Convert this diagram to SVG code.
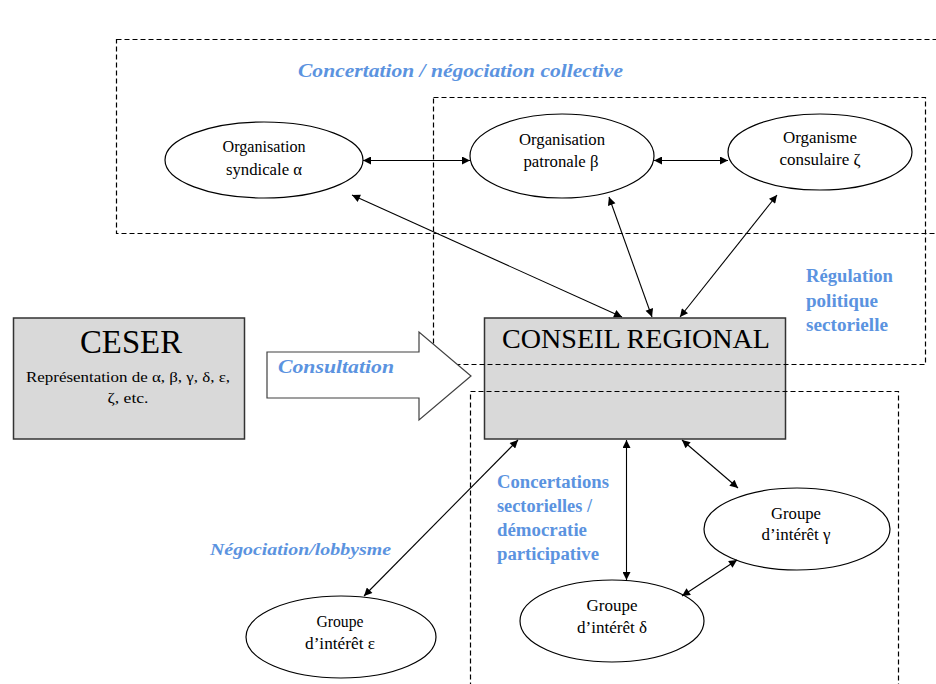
<svg xmlns="http://www.w3.org/2000/svg" width="936" height="684" viewBox="0 0 936 684">
<style>
.dash{fill:none;stroke:#000;stroke-width:1.2;stroke-dasharray:5,3}
.ell{fill:#fff;stroke:#000;stroke-width:1.2}
.box{fill:#d9d9d9;stroke:#333;stroke-width:1.5}
.t{font-family:"Liberation Serif","Times New Roman",serif;fill:#000;text-anchor:middle}
.b{font-family:"Liberation Serif","Times New Roman",serif;fill:#5b93e0;font-weight:bold}
.bi{font-family:"Liberation Serif","Times New Roman",serif;fill:#5b93e0;font-weight:bold;font-style:italic}
.con{stroke:#000;stroke-width:1.1;fill:none;marker-start:url(#ah);marker-end:url(#ah)}
</style>
<defs>
<marker id="ah" viewBox="0 0 10 10" refX="10" refY="5" markerWidth="9" markerHeight="8" markerUnits="userSpaceOnUse" orient="auto-start-reverse">
<path d="M0,0 L10,5 L0,10 z" fill="#000"/>
</marker>
</defs>
<rect width="936" height="684" fill="#fff"/>

<g id="conseil">
<rect class="box" x="484.5" y="318" width="301" height="121"/>
<text class="t" x="636" y="348" font-size="28" textLength="268" lengthAdjust="spacingAndGlyphs">CONSEIL REGIONAL</text>
</g>

<g id="zones">
<rect class="dash" x="116.5" y="39.5" width="840" height="194"/>
<rect class="dash" x="433.5" y="97.5" width="492" height="267"/>
<rect class="dash" x="470.5" y="391.5" width="428" height="320"/>
</g>

<g id="labels">
<text class="bi" x="298" y="77" font-size="19" textLength="325" lengthAdjust="spacingAndGlyphs">Concertation / négociation collective</text>
<text class="b" x="806" y="282" font-size="18" textLength="87" lengthAdjust="spacingAndGlyphs">Régulation</text>
<text class="b" x="806" y="307" font-size="18" textLength="72" lengthAdjust="spacingAndGlyphs">politique</text>
<text class="b" x="806" y="331" font-size="18" textLength="82" lengthAdjust="spacingAndGlyphs">sectorielle</text>
<text class="b" x="497" y="488" font-size="18" textLength="112" lengthAdjust="spacingAndGlyphs">Concertations</text>
<text class="b" x="497" y="512" font-size="18" textLength="95" lengthAdjust="spacingAndGlyphs">sectorielles /</text>
<text class="b" x="497" y="536" font-size="18" textLength="90" lengthAdjust="spacingAndGlyphs">démocratie</text>
<text class="b" x="497" y="560" font-size="18" textLength="102" lengthAdjust="spacingAndGlyphs">participative</text>
<text class="bi" x="210" y="555" font-size="17" textLength="181" lengthAdjust="spacingAndGlyphs">Négociation/lobbysme</text>
</g>

<g id="ceser">
<rect class="box" x="13.5" y="318" width="231" height="121"/>
<text class="t" x="131" y="353" font-size="33" textLength="102" lengthAdjust="spacingAndGlyphs">CESER</text>
<text class="t" x="128" y="382" font-size="15" textLength="204" lengthAdjust="spacingAndGlyphs">Représentation de α, β, γ, δ, ε,</text>
<text class="t" x="128" y="403" font-size="15" textLength="41" lengthAdjust="spacingAndGlyphs">ζ, etc.</text>
</g>

<g id="consultation">
<path d="M267,352 H419 V332 L471,376 L419,420 V398 H267 Z" fill="#fff" stroke="#404040" stroke-width="1.2"/>
<text class="bi" x="278" y="373" font-size="18" textLength="116" lengthAdjust="spacingAndGlyphs">Consultation</text>
</g>

<g id="org-syndicale">
<ellipse class="ell" cx="264" cy="160" rx="99" ry="38"/>
<text class="t" x="264" y="152" font-size="16" textLength="83" lengthAdjust="spacingAndGlyphs">Organisation</text>
<text class="t" x="264" y="175" font-size="16" textLength="76" lengthAdjust="spacingAndGlyphs">syndicale α</text>
</g>

<g id="org-patronale">
<ellipse class="ell" cx="562" cy="156" rx="92" ry="42"/>
<text class="t" x="562" y="145" font-size="16" textLength="86" lengthAdjust="spacingAndGlyphs">Organisation</text>
<text class="t" x="561" y="167" font-size="16" textLength="75" lengthAdjust="spacingAndGlyphs">patronale β</text>
</g>

<g id="org-consulaire">
<ellipse class="ell" cx="820" cy="152" rx="92" ry="38"/>
<text class="t" x="820" y="143" font-size="16" textLength="74" lengthAdjust="spacingAndGlyphs">Organisme</text>
<text class="t" x="820" y="165" font-size="16" textLength="81" lengthAdjust="spacingAndGlyphs">consulaire ζ</text>
</g>

<g id="groupe-epsilon">
<ellipse class="ell" cx="341" cy="637" rx="95" ry="41"/>
<text class="t" x="340" y="627" font-size="16" textLength="47" lengthAdjust="spacingAndGlyphs">Groupe</text>
<text class="t" x="340" y="649" font-size="16" textLength="70" lengthAdjust="spacingAndGlyphs">d’intérêt ε</text>
</g>

<g id="groupe-delta">
<ellipse class="ell" cx="612" cy="621" rx="92" ry="41"/>
<text class="t" x="612" y="611" font-size="16" textLength="51" lengthAdjust="spacingAndGlyphs">Groupe</text>
<text class="t" x="612" y="633" font-size="16" textLength="70" lengthAdjust="spacingAndGlyphs">d’intérêt δ</text>
</g>

<g id="groupe-gamma">
<ellipse class="ell" cx="797" cy="529" rx="93" ry="41"/>
<text class="t" x="796" y="519" font-size="16" textLength="50" lengthAdjust="spacingAndGlyphs">Groupe</text>
<text class="t" x="796" y="540" font-size="16" textLength="69" lengthAdjust="spacingAndGlyphs">d’intérêt γ</text>
</g>

<g id="connectors">
<line class="con" x1="363" y1="160.5" x2="470" y2="160.5"/>
<line class="con" x1="654" y1="160.5" x2="728" y2="160.5"/>
<line class="con" x1="352" y1="195" x2="622" y2="317"/>
<line class="con" x1="609" y1="197" x2="652" y2="317"/>
<line class="con" x1="777" y1="195" x2="680" y2="317"/>
<line class="con" x1="518" y1="440" x2="364" y2="596"/>
<line class="con" x1="626.5" y1="440" x2="626.5" y2="580"/>
<line class="con" x1="682" y1="440" x2="738" y2="488"/>
<line class="con" x1="682" y1="596" x2="737" y2="560"/>
</g>
</svg>
